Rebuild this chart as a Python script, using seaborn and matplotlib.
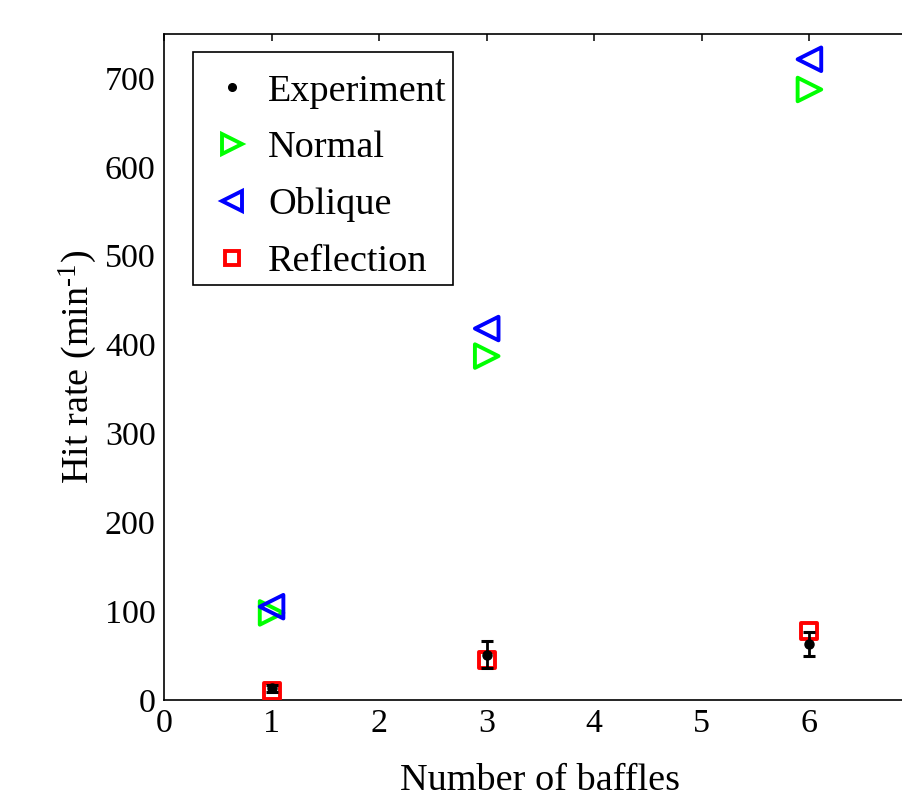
import numpy as np
import pandas as pd
import matplotlib
matplotlib.use("Agg")
import matplotlib.pyplot as plt
import seaborn as sns
from matplotlib.lines import Line2D
from matplotlib.patches import Rectangle

baffles = [1, 3, 6]
experiment = [13, 51, 63]
experiment_err = [4, 15, 13]
normal = [98, 387, 687]
oblique = [105, 418, 721]
reflection = [10, 45, 78]

sns.set_theme(style="white")
plt.rcParams['font.family'] = ['Liberation Serif', 'DejaVu Serif']
plt.rcParams['mathtext.fontset'] = 'custom'
plt.rcParams['mathtext.rm'] = 'Liberation Serif'
plt.rcParams['mathtext.it'] = 'Liberation Serif:italic'
plt.rcParams['text.color'] = 'black'
plt.rcParams['axes.labelcolor'] = 'black'

W, H = 903, 800
fig = plt.figure(figsize=(9.03, 8.0), dpi=100)
ax_l, ax_r, ax_t, ax_b = 164, 917, 33.5, 700
ax = fig.add_axes([ax_l/W, 1-ax_b/H, (ax_r-ax_l)/W, (ax_b-ax_t)/H])

def to_ax(px, py):
    return ((px-ax_l)/(ax_r-ax_l), (ax_b-py)/(ax_b-ax_t))

df_n = pd.DataFrame({"x": baffles, "y": normal})
df_o = pd.DataFrame({"x": baffles, "y": oblique})
df_r = pd.DataFrame({"x": baffles, "y": reflection})
df_e = pd.DataFrame({"x": baffles, "y": experiment, "err": experiment_err})

sns.scatterplot(data=df_n, x="x", y="y", ax=ax, marker=">", s=17**2,
                facecolor="none", edgecolor="#00ff00", linewidth=2.8, zorder=3)
sns.scatterplot(data=df_o, x="x", y="y", ax=ax, marker="<", s=17**2,
                facecolor="none", edgecolor="#0000ff", linewidth=2.8, zorder=3)
sns.scatterplot(data=df_r, x="x", y="y", ax=ax, marker="s", s=11.5**2,
                facecolor="none", edgecolor="#ff0000", linewidth=2.8, zorder=3)
ax.errorbar(df_e["x"], df_e["y"], yerr=df_e["err"], fmt=".", color="black",
            markersize=13, capsize=4.5, elinewidth=2, capthick=2.2, zorder=4)

ax.set_xlim(0, 7)
ax.set_ylim(0, 750)
ax.set_xticks([0, 1, 2, 3, 4, 5, 6])
ax.set_yticks([0, 100, 200, 300, 400, 500, 600, 700])
ax.tick_params(direction="in", length=5, width=1.1, top=True, right=True,
               labelsize=24.5, pad=6, colors="black")
for s in ax.spines.values():
    s.set_color("black")
    s.set_linewidth(1.2)

ax.set_xlabel("Number of baffles", fontsize=27.5, labelpad=18)
ax.set_ylabel(r"Hit rate (min$^{\text{-}1}$)", fontsize=27.5, labelpad=4)

handles = [
    Line2D([], [], linestyle="none", marker=".", color="black", markersize=11),
    Line2D([], [], linestyle="none", marker=">", markerfacecolor="none",
           markeredgecolor="#00ff00", markeredgewidth=2.8, markersize=14),
    Line2D([], [], linestyle="none", marker="<", markerfacecolor="none",
           markeredgecolor="#0000ff", markeredgewidth=2.8, markersize=14),
    Line2D([], [], linestyle="none", marker="s", markerfacecolor="none",
           markeredgecolor="#ff0000", markeredgewidth=2.8, markersize=10),
]
fs = 27.5
hl = 1.3
x0 = 232 - hl*fs*100/72/2
pad = (268 - (x0 + hl*fs*100/72)) / (fs*100/72)
leg = ax.legend(handles, ["Experiment", "Normal", "Oblique", "Reflection"],
                loc="upper left", bbox_to_anchor=to_ax(x0, 74), fontsize=fs,
                frameon=False, labelspacing=0.575, handletextpad=pad,
                handlelength=hl, borderpad=0, borderaxespad=0)
bx0, by0 = to_ax(193, 285)
bx1, by1 = to_ax(453, 52)
ax.add_patch(Rectangle((bx0, by0), bx1-bx0, by1-by0, transform=ax.transAxes,
                       facecolor="white", edgecolor="black", linewidth=1.2,
                       zorder=5))
leg.set_zorder(6)

fig.savefig("out.png", dpi=100)
